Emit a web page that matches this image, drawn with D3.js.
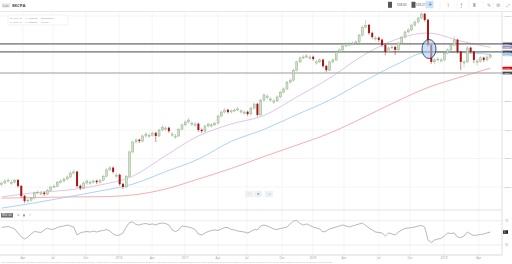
<!DOCTYPE html>
<html><head><meta charset="utf-8">
<script src="https://cdn.jsdelivr.net/npm/d3@7"></script>
<style>html,body{margin:0;padding:0;background:#fff;overflow:hidden}svg{display:block;font-family:"Open Sans",Roboto,sans-serif}</style>
</head><body><svg id="c" width="512" height="264"></svg>
<script>
const closes=[1514,1521,1524,1517,1524,1503,1468,1451,1454,1461,
1479,1482,1479,1475,1489,1500,1503,1517,1521,1528,
1535,1549,1553,1503,1496,1514,1521,1517,1521,1517,
1524,1538,1560,1567,1553,1542,1510,1500,1538,1623,
1658,1665,1661,1679,1686,1682,1689,1679,1700,1710,
1707,1696,1686,1679,1703,1718,1728,1735,1724,1721,
1700,1696,1714,1721,1718,1724,1749,1763,1770,1763,
1767,1770,1774,1767,1763,1756,1777,1791,1753,1805,
1823,1819,1809,1802,1816,1833,1844,1868,1875,1910,
1939,1953,1956,1960,1956,1949,1939,1946,1924,1910,
1939,1946,1974,1981,1995,2002,2002,2005,2009,2033,
2061,2068,2040,2026,2023,2016,1998,1974,1988,1991,
1981,2005,2026,2044,2051,2068,2079,2093,2107,2086,
1998,1939,1946,1949,1946,1970,1981,1998,2016,1974,
1939,1939,1988,1974,1946,1942,1953,1946,1956,1963];
const opens=[1508,1514,1521,1513,1517,1525,1504,1469,1451,1454,
1461,1479,1475,1480,1475,1489,1500,1503,1517,1521,
1528,1535,1549,1554,1504,1496,1514,1513,1517,1522,
1517,1524,1538,1560,1568,1538,1543,1511,1500,1538,
1623,1658,1666,1661,1679,1678,1682,1690,1679,1700,
1703,1708,1682,1675,1679,1703,1718,1728,1720,1717,
1722,1701,1696,1714,1714,1718,1724,1749,1763,1771,
1763,1767,1770,1763,1759,1764,1756,1777,1792,1753,
1805,1815,1805,1798,1802,1816,1833,1844,1868,1875,
1910,1939,1953,1956,1952,1957,1935,1939,1947,1925,
1910,1939,1946,1974,1981,1995,1998,2002,2005,2009,
2033,2061,2069,2041,2019,2024,2017,1999,1974,1988,
1992,1981,2005,2026,2044,2051,2068,2079,2093,2108,
2087,1999,1939,1946,1942,1946,1970,1981,1998,2017,
1975,1935,1939,1989,1975,1938,1942,1954,1946,1956];
const highs=[1519,1527,1531,1526,1530,1528,1507,1472,1460,1466,
1484,1489,1486,1484,1494,1505,1510,1522,1528,1534,
1541,1555,1562,1557,1509,1519,1527,1524,1527,1526,
1530,1543,1566,1575,1572,1549,1547,1515,1543,1628,
1663,1672,1670,1684,1692,1689,1695,1694,1705,1716,
1714,1712,1693,1686,1708,1723,1734,1742,1731,1728,
1726,1705,1719,1727,1725,1730,1754,1768,1777,1775,
1774,1776,1781,1774,1770,1768,1782,1796,1795,1810,
1828,1826,1816,1809,1821,1838,1850,1873,1882,1915,
1944,1959,1963,1967,1963,1961,1946,1952,1950,1928,
1944,1952,1979,1987,2000,2008,2009,2012,2016,2038,
2066,2086,2072,2045,2030,2028,2021,2002,1993,1998,
1995,2010,2031,2049,2057,2073,2085,2098,2113,2111,
2090,2002,1952,1956,1953,1975,1987,2003,2030,2020,
1978,1946,1995,1992,1978,1949,1959,1957,1962,1969];
const lows=[1503,1510,1516,1507,1512,1498,1462,1444,1445,1449,
1457,1474,1470,1468,1471,1484,1495,1499,1512,1516,
1523,1531,1544,1498,1489,1492,1509,1507,1512,1510,
1512,1520,1534,1555,1547,1532,1504,1493,1495,1533,
1618,1652,1654,1656,1674,1671,1677,1658,1675,1695,
1697,1690,1676,1669,1675,1698,1713,1723,1714,1711,
1694,1689,1691,1709,1708,1713,1720,1744,1758,1757,
1758,1762,1765,1757,1753,1749,1752,1772,1747,1749,
1800,1809,1799,1792,1797,1811,1828,1839,1863,1870,
1905,1934,1948,1951,1946,1943,1929,1934,1918,1903,
1906,1934,1941,1969,1976,1990,1992,1997,2000,2005,
2028,2056,2034,2019,2013,2009,1991,1963,1970,1982,
1963,1976,2000,2021,2039,2046,2063,2074,2088,2080,
1992,1932,1930,1940,1936,1941,1965,1976,1993,1968,
1910,1920,1935,1968,1935,1925,1936,1938,1940,1950];
const maIdx=[0,10,20,30,40,50,60,70,80,90,100,110,120,130,140,149];
const maPurple=[1465,1480,1489,1507,1538,1610,1679,1721,1751,1816,1882,1960,2017,2040,2012,1990];
const maBlue=[1426,1444,1465,1486,1510,1554,1598,1660,1702,1754,1805,1868,1928,1973,1972,1965];
const maRed=[1461,1463,1465,1466,1472,1493,1528,1565,1607,1647,1689,1742,1798,1849,1886,1917];
const rsi=[59.1,59.6,60.5,58.8,56.3,49.8,43.2,39.9,43.2,48.1,
52.2,51.4,50.6,54.7,58.0,55.5,56.3,58.8,60.5,61.3,
62.9,61.3,59.6,46.5,49.8,51.4,52.2,51.4,53.0,51.4,
53.0,53.9,55.5,53.0,48.1,45.6,46.5,49.8,59.6,67.0,
67.9,63.7,62.9,64.6,65.4,63.7,64.6,62.9,65.4,66.2,
65.4,62.9,54.7,52.2,54.7,61.3,60.5,59.6,58.0,55.5,
48.1,46.5,49.8,52.2,53.9,54.7,53.9,56.3,58.8,58.8,
55.5,54.7,53.0,52.2,51.4,49.8,52.2,55.5,54.7,61.3,
62.9,61.3,58.8,56.3,55.5,57.2,58.0,59.6,64.6,69.5,
70.3,65.4,62.9,64.6,62.1,59.6,58.0,56.3,51.4,53.0,
56.3,58.0,59.6,61.3,62.9,61.3,59.6,61.3,62.9,64.6,
66.2,62.1,58.0,54.7,51.4,50.6,49.8,44.8,49.8,48.1,
46.5,51.4,54.7,57.2,58.0,58.8,59.6,61.3,62.1,59.6,
38.2,34.1,38.2,39.9,40.7,44.8,49.8,49.0,49.8,43.2,
42.3,44.8,51.4,48.1,45.6,46.5,47.3,48.1,49.8,51.4];
const levels=[2002,1974,1900];
const priceTicks=[2100,2000,1900,1800,1700,1600,1500];
const rsiTicks=[70,30];
const xTickIdx=[6.5,15.7,25.7,35.8,45.9,55.9,66,74.8,85.5,94.9,104.4,115,124.5,134.9,145.5];
const xTickLabels=["Apr","Jul","Oct","2016","Apr","2017","Apr","Jul","Oct","2018","Apr","Jul","Oct","2019","Apr"];

const svg=d3.select("#c");
const W=512,H=264,PR=502,MT=12,MB=210,RB=255;
svg.append("rect").attr("width",W).attr("height",H).attr("fill","#fff");
const x=d3.scaleLinear().domain([0,149]).range([1.6,490.3]);
const y=d3.scaleLinear().domain([1500,2100]).range([187,16]);
const yr=d3.scaleLinear().domain([30,70]).range([245,220.7]);

// grid
const g=svg.append("g");
g.selectAll(".vg").data(xTickIdx).join("line").attr("x1",d=>x(d)).attr("x2",d=>x(d)).attr("y1",MT).attr("y2",RB).attr("stroke","#f2f2f2").attr("stroke-width",0.8);
g.selectAll(".hg").data(priceTicks).join("line").attr("x1",0).attr("x2",PR).attr("y1",d=>y(d)).attr("y2",d=>y(d)).attr("stroke","#f2f2f2").attr("stroke-width",0.8);
g.selectAll(".rg").data(rsiTicks).join("line").attr("x1",0).attr("x2",PR).attr("y1",d=>yr(d)).attr("y2",d=>yr(d)).attr("stroke","#e8e8e8").attr("stroke-width",0.8);

// panel borders
svg.append("line").attr("x1",0).attr("x2",PR).attr("y1",MB).attr("y2",MB).attr("stroke","#dcdcdc").attr("stroke-width",0.8);
svg.append("line").attr("x1",0).attr("x2",PR).attr("y1",RB).attr("y2",RB).attr("stroke","#cfcfcf").attr("stroke-width",0.8);
svg.append("line").attr("x1",PR).attr("x2",PR).attr("y1",MT).attr("y2",RB).attr("stroke","#d8d8d8").attr("stroke-width",0.8);

svg.append("defs").append("clipPath").attr("id","mc").append("rect").attr("x",0).attr("y",MT).attr("width",PR).attr("height",MB-MT);
const main=svg.append("g").attr("clip-path","url(#mc)");

// moving averages
const line=(arr)=>d3.line().x((d,i)=>x(maIdx[i])).y(d=>y(d)).curve(d3.curveMonotoneX)(arr);
main.append("path").attr("d",line(maRed)).attr("fill","none").attr("stroke","#f5a5a5").attr("stroke-width",0.9);
main.append("path").attr("d",line(maBlue)).attr("fill","none").attr("stroke","#a5cdf0").attr("stroke-width",0.9);
main.append("path").attr("d",line(maPurple)).attr("fill","none").attr("stroke","#dcbde3").attr("stroke-width",0.9);

// level lines
main.selectAll(".lv").data(levels).join("line").attr("x1",0).attr("x2",PR).attr("y1",d=>y(d)).attr("y2",d=>y(d))
 .attr("stroke",(d,i)=>i<2?"#6f6f6f":"#a0a0a0").attr("stroke-width",(d,i)=>i<2?1.2:1);

// candles
const data=closes.map((c,i)=>({i,o:opens[i],h:highs[i],l:lows[i],c}));
const cg=main.append("g");
cg.selectAll(".wk").data(data).join("line").attr("x1",d=>x(d.i)).attr("x2",d=>x(d.i)).attr("y1",d=>y(d.h)).attr("y2",d=>y(d.l))
 .attr("stroke",d=>d.c>=d.o?"#a3b59b":"#a81818").attr("stroke-width",0.5);
cg.selectAll(".bd").data(data).join("rect").attr("x",d=>x(d.i)-1).attr("width",2)
 .attr("y",d=>y(Math.max(d.o,d.c))).attr("height",d=>Math.max(0.8,Math.abs(y(d.o)-y(d.c))))
 .attr("fill",d=>d.c>=d.o?"#d3dfcd":"#a81616").attr("stroke",d=>d.c>=d.o?"#7da56f":"none").attr("stroke-width",0.4);

// ellipse annotation
main.append("ellipse").attr("cx",x(130)+1).attr("cy",49).attr("rx",7).attr("ry",9.5)
 .attr("fill","#a9cdf0").attr("fill-opacity",0.6).attr("stroke","#1d2d4d").attr("stroke-width",0.8);

// tags: value, colour; positions pushed apart so they don't overlap
const tags=[[levels[0],"#454a52"],[maPurple[maPurple.length-1],"#a48bd0"],[levels[1],"#454a52"],
 [maBlue[maBlue.length-1],"#9fc9ef"],[maRed[maRed.length-1],"#e40000"],[levels[2],"#454a52"]]
 .map(([v,c])=>({v,c,yy:y(v)})).sort((a,b)=>a.yy-b.yy);
const TH=2.7;
for(let k=1;k<tags.length;k++){ if(tags[k].yy-tags[k-1].yy<TH+0.2) tags[k].yy=tags[k-1].yy+TH+0.2; }

// price axis labels (hidden where a tag covers them)
const visTicks=priceTicks.filter(p=>tags.every(t=>Math.abs(t.yy-y(p))>3));
svg.selectAll(".pt").data(visTicks).join("text").attr("x",503.5).attr("y",d=>y(d)+0.9).text(d=>d.toFixed(1))
 .attr("font-size",2.5).attr("fill","#999");

tags.forEach(t=>{
  svg.append("rect").attr("x",502.5).attr("y",t.yy-TH/2).attr("width",9.5).attr("height",TH).attr("fill",t.c);
  svg.append("text").attr("x",503.2).attr("y",t.yy+0.75).text(t.v.toFixed(1)).attr("font-size",2.2).attr("fill","#fff");
});

// RSI
const rline=d3.line().x((d,i)=>x(i)).y(d=>yr(d));
svg.append("path").attr("d",rline(rsi)).attr("fill","none").attr("stroke","#9a9a9a").attr("stroke-width",0.7);
svg.selectAll(".rt").data(rsiTicks).join("text").attr("x",505).attr("y",d=>yr(d)+1).text(d=>d).attr("font-size",2.8).attr("fill","#999");
const lastR=rsi[rsi.length-1];
svg.append("rect").attr("x",503).attr("y",yr(lastR)-1.8).attr("width",5).attr("height",3.6).attr("fill","#222");
svg.append("text").attr("x",503.5).attr("y",yr(lastR)+1).text(lastR.toFixed(0)).attr("font-size",2.6).attr("fill","#fff");
svg.append("rect").attr("x",1).attr("y",213).attr("width",12).attr("height",4.5).attr("fill","#6d6d6d");
svg.append("text").attr("x",2).attr("y",216.4).text("RSI(14)").attr("font-size",3).attr("fill","#fff");
svg.append("text").attr("x",17).attr("y",216.4).text("⚙").attr("font-size",3).attr("fill","#999");
svg.append("rect").attr("x",23).attr("y",214.4).attr("width",2).attr("height",2).attr("fill","#999");
svg.append("text").attr("x",29).attr("y",216.4).text("×").attr("font-size",3.2).attr("fill","#999");

// x axis labels
svg.selectAll(".xt").data(xTickIdx).join("text").attr("x",d=>x(d)).attr("y",258.5).attr("text-anchor","middle")
 .text((d,i)=>xTickLabels[i]).attr("font-size",3).attr("fill","#999");

// footer
svg.append("text").attr("x",1).attr("y",263).attr("font-size",2.2).attr("fill","#b5b5b5")
 .text("Past performance is not a reliable indicator of future results. Prices shown are indicative only; charts are for information purposes and do not constitute investment advice or a recommendation to trade. Spread bets and CFDs are complex instruments and carry a high risk of losing money rapidly due to leverage. Data delayed.");

// toolbar
svg.append("line").attr("x1",0).attr("x2",W).attr("y1",11.5).attr("y2",11.5).attr("stroke","#e2e2e2").attr("stroke-width",0.8);
svg.append("rect").attr("x",2).attr("y",3.5).attr("width",8).attr("height",4).attr("fill","#e4e4e4");
svg.append("text").attr("x",2.8).attr("y",6.6).text("Loxx").attr("font-size",2.6).attr("fill","#888");
svg.append("text").attr("x",12).attr("y",7.2).text("SKCPA").attr("font-size",4.2).attr("font-weight","bold").attr("fill","#444");
svg.append("rect").attr("x",388).attr("y",1.8).attr("width",4).attr("height",6).attr("fill","#555");
svg.append("text").attr("x",397).attr("y",6.2).text("538.00").attr("font-size",3).attr("fill","#444");
svg.append("rect").attr("x",411.5).attr("y",1.8).attr("width",4).attr("height",6).attr("fill","#555");
svg.append("text").attr("x",416).attr("y",6.2).text("539.27").attr("font-size",3).attr("fill","#444");
svg.append("rect").attr("x",425.5).attr("y",0.8).attr("width",8).attr("height",7.5).attr("fill","#cfe3f7");
svg.append("text").attr("x",429.5).attr("y",6.3).attr("text-anchor","middle").text("✛").attr("font-size",5).attr("fill","#2f7fd0");
[[447,"⌇"],[460,"ƒ"],[472,"♜"],[487,"✎"],[496,"⚙"],[506,"⤢"]].forEach(([xx,t])=>{
  svg.append("text").attr("x",xx).attr("y",6.5).text(t).attr("font-size",4.5).attr("fill","#999");
});
[440,457,469,483,493,503].forEach(xx=>svg.append("line").attr("x1",xx).attr("x2",xx).attr("y1",1).attr("y2",10).attr("stroke","#eee").attr("stroke-width",0.6));

// info box
svg.append("rect").attr("x",8).attr("y",15).attr("width",60).attr("height",10).attr("fill","#fff").attr("stroke","#ececec").attr("stroke-width",0.6);
const info=[["O: 1516.45","H: 1526.23","02/28/2018"],["C: 1516.45","L: 1500.50","1517.0"]];
info.forEach((row,r)=>row.forEach((t,k)=>svg.append("text").attr("x",10+k*15.5).attr("y",19+r*3.8).text(t).attr("font-size",2.4).attr("fill","#888")));

// bottom buttons
[[245,"−"],[254,"■"],[265,"⋖"]].forEach(([xx,t])=>{
  svg.append("rect").attr("x",xx).attr("y",191).attr("width",8).attr("height",6).attr("fill","#eef1f4");
  svg.append("text").attr("x",xx+4).attr("y",195.4).attr("text-anchor","middle").text(t).attr("font-size",3.4).attr("fill","#6fa7e0");
});
</script></body></html>
